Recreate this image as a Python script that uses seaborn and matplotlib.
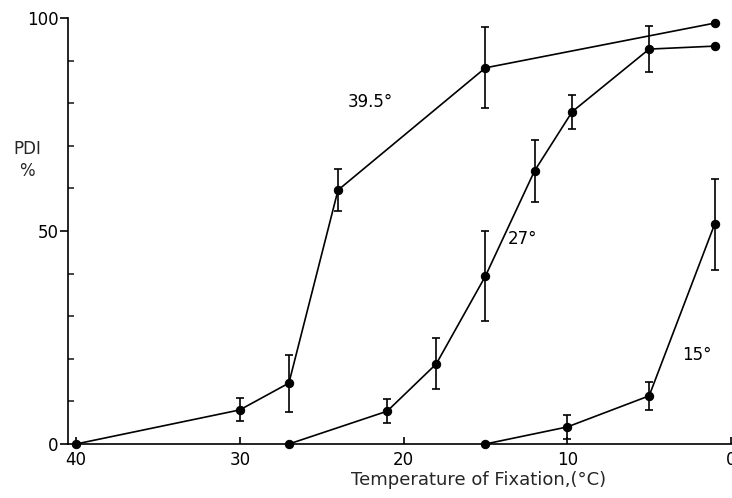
import matplotlib
matplotlib.use("Agg")
import matplotlib.pyplot as plt
import seaborn as sns
import pandas as pd
import numpy as np
from matplotlib.ticker import MultipleLocator, FixedLocator

# --- data ---
x_395 = [40, 30, 27, 24, 15, 1]
y_395 = [0, 8.0, 14.3, 59.6, 88.3, 98.8]
e_395 = [0, 2.7, 6.7, 5.0, 9.5, 0]

x_27 = [27, 21, 18, 15, 12, 9.7, 5, 1]
y_27 = [0, 7.7, 18.8, 39.4, 64.1, 78.0, 92.7, 93.4]
e_27 = [0, 2.8, 6.0, 10.5, 7.3, 4.0, 5.4, 0]

x_15 = [15, 10, 5, 1]
y_15 = [0, 4.0, 11.3, 51.6]
e_15 = [0, 2.9, 3.3, 10.7]

series_labels = ["39.5°", "27°", "15°"]
label_pos_x = [22.05, 12.76, 2.08]
label_pos_y = [80.3, 48.1, 20.9]

x_ticks = [40, 30, 20, 10, 0]
x_ticklabels = ["40", "30", "20", "10", "0"]
y_ticks = [0, 50, 100]
y_ticklabels = ["0", "50", "100"]

frames = []
for name, xs, ys, es in [(series_labels[0], x_395, y_395, e_395),
                         (series_labels[1], x_27, y_27, e_27),
                         (series_labels[2], x_15, y_15, e_15)]:
    frames.append(pd.DataFrame({"temp": xs, "pdi": ys, "err": es, "series": name}))
df = pd.concat(frames, ignore_index=True)

sns.set_style("ticks")
plt.rcParams["font.family"] = ["DejaVu Sans"]

fig = plt.figure(figsize=(7.32, 4.98), dpi=100)
ax = fig.add_axes([68/732, 54/498, 664/732, 426/498])

sns.lineplot(data=df, x="temp", y="pdi", units="series", estimator=None,
             sort=False, color="black", lw=1.2, marker="o", markersize=6,
             markeredgecolor="black", ax=ax, legend=False, clip_on=False)

for name in series_labels:
    d = df[(df.series == name) & (df.err > 0)]
    ax.errorbar(d.temp, d.pdi, yerr=d.err, fmt="none", ecolor="black",
                elinewidth=1.2, capsize=3.2, capthick=1.2, clip_on=False)

for lab, lx, ly in zip(series_labels, label_pos_x, label_pos_y):
    ax.text(lx, ly, lab, ha="center", va="center", fontsize=12, color="black")

ax.set_xlim(40.49, -0.06)
ax.set_ylim(0, 100)
ax.xaxis.set_major_locator(FixedLocator(x_ticks))
ax.set_xticklabels(x_ticklabels)
ax.yaxis.set_major_locator(FixedLocator(y_ticks))
ax.set_yticklabels(y_ticklabels)
ax.yaxis.set_minor_locator(MultipleLocator(10))
ax.tick_params(axis="x", direction="in", length=5, width=1.2, pad=5,
               labelsize=12, colors="black")
ax.tick_params(axis="y", which="major", direction="out", length=6, width=1.2,
               pad=1, labelsize=12, colors="black")
ax.tick_params(axis="y", which="minor", direction="in", length=4, width=1.2)
ax.set_xlabel("")
ax.set_ylabel("")
sns.despine(ax=ax)
for s in ["left", "bottom"]:
    ax.spines[s].set_linewidth(1.2)
    ax.spines[s].set_color("black")

fig.text(27/732, 1 - 160/498, "PDI\n%", ha="center", va="center",
         fontsize=12, linespacing=1.3)
fig.text(479/732, 1 - 480/498, "Temperature of Fixation,(°C)", ha="center",
         va="center", fontsize=13)

fig.savefig("out.png", dpi=100)
